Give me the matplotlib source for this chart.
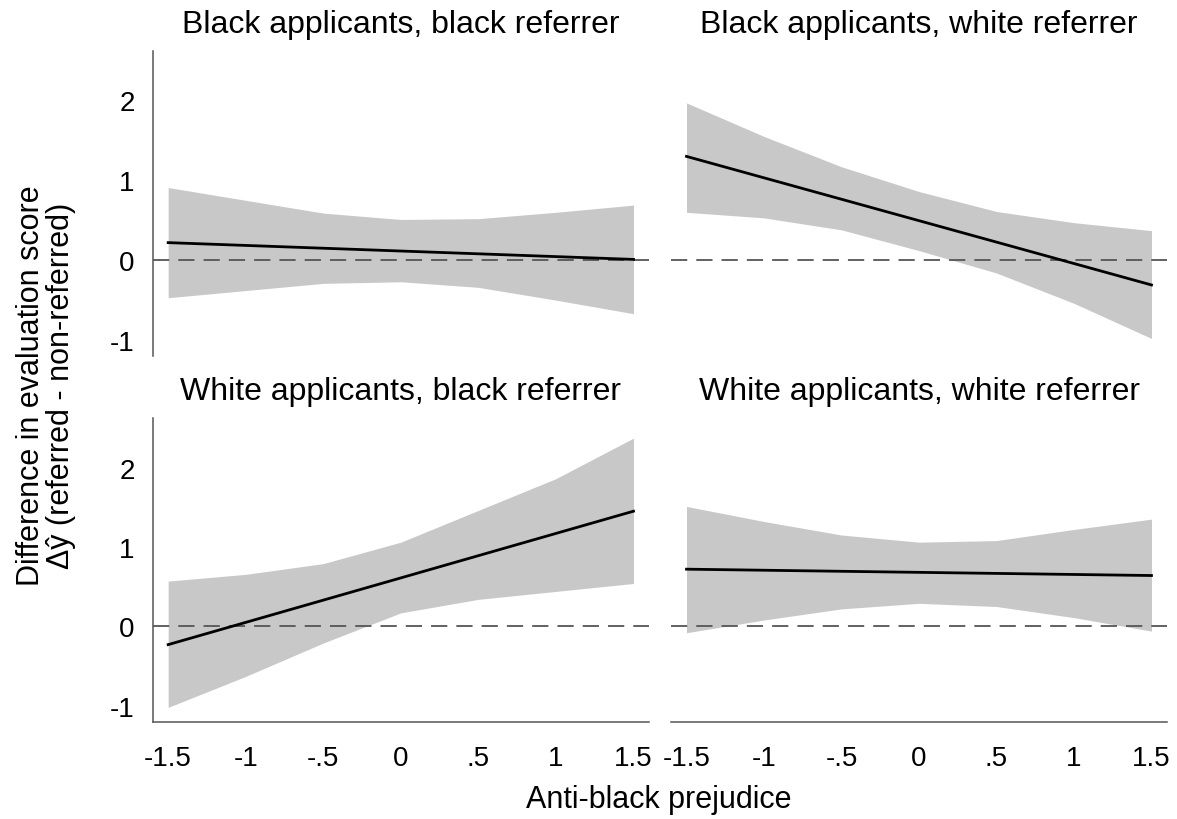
import matplotlib
matplotlib.use("Agg")
import matplotlib.pyplot as plt

plt.rcParams["font.family"] = ["Liberation Sans", "DejaVu Sans"]

X = [-1.5, -1.0, -0.5, 0.0, 0.5, 1.0, 1.5]

TITLES = [
    "Black applicants, black referrer",
    "Black applicants, white referrer",
    "White applicants, black referrer",
    "White applicants, white referrer",
]

# fitted line endpoints (linear) and CI bands, per panel
LINE_BB = [0.22, 0.01]
UPPER_BB = [0.91, 0.75, 0.59, 0.51, 0.52, 0.60, 0.69]
LOWER_BB = [-0.47, -0.38, -0.29, -0.27, -0.34, -0.50, -0.67]

LINE_BW = [1.30, -0.31]
UPPER_BW = [1.97, 1.55, 1.17, 0.86, 0.61, 0.47, 0.37]
LOWER_BW = [0.60, 0.53, 0.38, 0.12, -0.16, -0.54, -0.98]

LINE_WB = [-0.23, 1.45]
UPPER_WB = [0.57, 0.655, 0.79, 1.06, 1.46, 1.86, 2.37]
LOWER_WB = [-1.02, -0.63, -0.21, 0.17, 0.34, 0.44, 0.54]

LINE_WW = [0.72, 0.64]
UPPER_WW = [1.51, 1.32, 1.15, 1.06, 1.08, 1.22, 1.35]
LOWER_WW = [-0.08, 0.08, 0.22, 0.29, 0.25, 0.11, -0.06]

XTICKS = [-1.5, -1, -0.5, 0, 0.5, 1, 1.5]
XTICKLABELS = ["-1.5", "-1", "-.5", "0", ".5", "1", "1.5"]
YTICKS = [-1, 0, 1, 2]
YTICKLABELS = ["-1", "0", "1", "2"]

PANELS = [
    (LINE_BB, UPPER_BB, LOWER_BB),
    (LINE_BW, UPPER_BW, LOWER_BW),
    (LINE_WB, UPPER_WB, LOWER_WB),
    (LINE_WW, UPPER_WW, LOWER_WW),
]

# axes rectangles in figure fractions: [left, bottom, width, height]
POSITIONS = [
    [0.1297, 0.5646, 0.4217, 0.372],
    [0.5701, 0.5646, 0.4214, 0.372],
    [0.1297, 0.1187, 0.4217, 0.370],
    [0.5701, 0.1187, 0.4214, 0.370],
]

SPINE_COLOR = "#555555"
BAND_COLOR = "#c8c8c8"

fig = plt.figure(figsize=(11.77, 8.20), dpi=100)
fig.patch.set_facecolor("white")

for i, (title, (line, upper, lower), pos) in enumerate(zip(TITLES, PANELS, POSITIONS)):
    ax = fig.add_axes(pos)
    is_left = i % 2 == 0
    is_bottom = i >= 2

    ax.fill_between(X, lower, upper, color=BAND_COLOR, linewidth=0, zorder=1)
    ax.axhline(0, color=SPINE_COLOR, linewidth=1.3, dashes=(9, 5), zorder=2)
    ax.plot([X[0], X[-1]], line, color="black", linewidth=2.0, zorder=3)

    ax.set_xlim(-1.6, 1.6)
    ax.set_ylim(-1.2, 2.62)
    ax.set_title(title, fontsize=23, pad=14)

    for side in ["top", "right"]:
        ax.spines[side].set_visible(False)
    ax.spines["left"].set_visible(is_left)
    ax.spines["bottom"].set_visible(is_bottom)
    for side in ["left", "bottom"]:
        ax.spines[side].set_color(SPINE_COLOR)
        ax.spines[side].set_linewidth(1.1)

    ax.set_xticks(XTICKS)
    ax.set_xticklabels(XTICKLABELS)
    ax.set_yticks(YTICKS)
    ax.set_yticklabels(YTICKLABELS)
    ax.tick_params(axis="x", length=0, pad=17, labelsize=20, labelbottom=is_bottom)
    ax.tick_params(axis="y", length=0, pad=13, labelsize=20, labelleft=is_left)

fig.text(0.56, 1 - 800 / 820, "Anti-black prejudice", ha="center", va="center", fontsize=22)
fig.text(
    0.039, 0.53,
    "Difference in evaluation score\n\u0394\u0177 (referred - non-referred)",
    rotation=90, ha="center", va="center", fontsize=22,
    multialignment="center", linespacing=1.0,
)

fig.savefig("out.png", dpi=100, facecolor="white")
